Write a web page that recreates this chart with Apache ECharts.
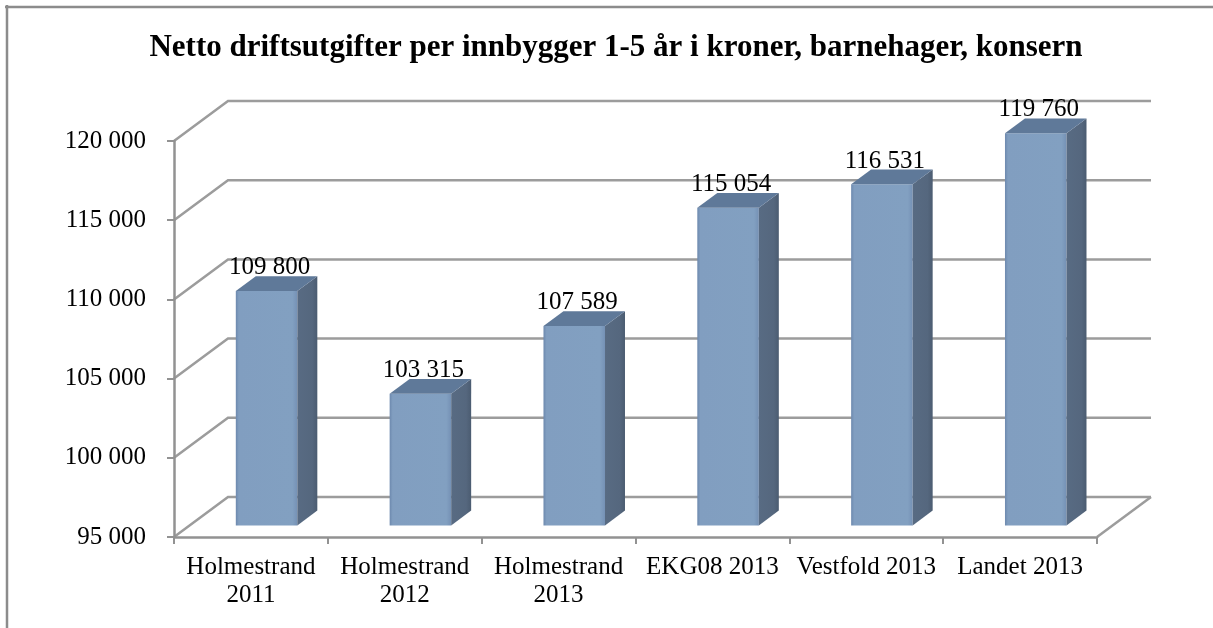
<!DOCTYPE html>
<html>
<head>
<meta charset="utf-8">
<script src="https://cdn.jsdelivr.net/npm/echarts@6.0.0/dist/echarts.min.js"></script>
<style>
html,body{margin:0;padding:0;background:#fff;}
#c{width:1213px;height:628px;}
</style>
</head>
<body>
<div id="c"></div>
<script>
const titleText = 'Netto driftsutgifter per innbygger 1-5 år i kroner, barnehager, konsern';
const categories = ['Holmestrand\n2011', 'Holmestrand\n2012', 'Holmestrand\n2013', 'EKG08 2013', 'Vestfold 2013', 'Landet 2013'];
const values = [109800, 103315, 107589, 115054, 116531, 119760];
const yTicks = [95000, 100000, 105000, 110000, 115000, 120000];
const yMin = 95000, yMax = 120000, yStep = 5000;

// oblique 3D projection (pixels)
const DX = 54, DY = -40;
const F1 = 0.29, F2 = 0.66;   // bar front / back depth fraction
const BAR_W = 0.40;           // bar width as fraction of band
const FONT = '"Liberation Serif", serif';
const GRID_COLOR = '#9c9c9c';

function fmt(v) { return String(v).replace(/\B(?=(\d{3})+(?!\d))/g, ' '); }

const chart = echarts.init(document.getElementById('c'), null, { renderer: 'canvas' });

const option = {
  animation: false,
  backgroundColor: '#fff',
  title: {
    text: titleText,
    left: 611,
    top: 27,
    textAlign: 'center',
    textStyle: { fontFamily: FONT, fontWeight: 'bold', fontSize: 31, color: '#000' }
  },
  graphic: [
    { type: 'line', shape: { x1: 5, y1: 7, x2: 1213, y2: 7 }, style: { stroke: '#8c8c8c', lineWidth: 2.5 }, silent: true },
    { type: 'line', shape: { x1: 7, y1: 5, x2: 7, y2: 628 }, style: { stroke: '#8c8c8c', lineWidth: 2.5 }, silent: true }
  ],
  grid: { left: 174, right: 116, top: 141, bottom: 91 },
  xAxis: {
    type: 'category',
    data: categories,
    boundaryGap: true,
    axisLine: { show: true, lineStyle: { color: '#929292', width: 2.5 } },
    axisTick: { show: true, length: 7, lineStyle: { color: '#929292', width: 2 } },
    axisLabel: { color: '#000', fontFamily: FONT, fontSize: 25, lineHeight: 28, margin: 16, interval: 0 },
    splitLine: { show: false },
    z: 5
  },
  yAxis: {
    type: 'value',
    min: yMin, max: yMax, interval: yStep,
    axisLine: { show: true, lineStyle: { color: '#929292', width: 2.5 } },
    axisTick: { show: true, length: 7, lineStyle: { color: '#929292', width: 2 } },
    axisLabel: { color: '#000', fontFamily: FONT, fontSize: 25, margin: 28, formatter: fmt },
    splitLine: { show: false },
    z: 5
  },
  series: [
    {
      type: 'custom',
      name: 'walls',
      silent: true,
      z: 1,
      data: yTicks.map(function (v) { return [0, v]; }),
      renderItem: function (params, api) {
        const cs = params.coordSys;
        const y = api.coord([0, api.value(1)])[1];
        const x0 = cs.x, x1 = cs.x + cs.width;
        const st = { stroke: GRID_COLOR, lineWidth: 2.5, fill: null };
        const children = [{
          type: 'polyline',
          shape: { points: [[x0, y], [x0 + DX, y + DY], [x1 + DX, y + DY]] },
          style: st
        }];
        if (params.dataIndex === 0) {
          children.push({ type: 'line', shape: { x1: x1, y1: y, x2: x1 + DX, y2: y + DY }, style: st });
        }
        return { type: 'group', children: children };
      }
    },
    {
      type: 'custom',
      name: 'bars',
      z: 3,
      data: values.map(function (v, i) { return [i, v]; }),
      renderItem: function (params, api) {
        const i = api.value(0), v = api.value(1);
        const top = api.coord([i, v]);
        const base = api.coord([i, yMin]);
        const band = api.size([1, 0])[0];
        const w = band * BAR_W;
        const fx = top[0] - w / 2 + F1 * DX;
        const fy = top[1] + F1 * DY;
        const by = base[1] + F1 * DY;
        const ddx = (F2 - F1) * DX, ddy = (F2 - F1) * DY;
        const front = {
          type: 'rect',
          shape: { x: fx, y: fy, width: w, height: by - fy },
          style: {
            fill: new echarts.graphic.LinearGradient(0, 0, 1, 0, [
              { offset: 0, color: '#6d89ae' },
              { offset: 0.05, color: '#819ec0' },
              { offset: 0.92, color: '#82a0c1' },
              { offset: 1, color: '#7591b5' }
            ])
          }
        };
        const side = {
          type: 'polygon',
          shape: { points: [[fx + w, fy], [fx + w + ddx, fy + ddy], [fx + w + ddx, by + ddy], [fx + w, by]] },
          style: {
            fill: new echarts.graphic.LinearGradient(0, 0, 1, 0, [
              { offset: 0, color: '#586b83' },
              { offset: 0.75, color: '#55677e' },
              { offset: 1, color: '#4b5c71' }
            ])
          }
        };
        const topFace = {
          type: 'polygon',
          shape: { points: [[fx, fy], [fx + w, fy], [fx + w + ddx, fy + ddy], [fx + ddx, fy + ddy]] },
          style: { fill: '#5f7999' }
        };
        const label = {
          type: 'text',
          style: {
            text: fmt(v),
            x: fx + w / 2 + 3,
            y: fy + ddy + 4,
            align: 'center',
            verticalAlign: 'bottom',
            fontFamily: FONT,
            fontSize: 25,
            fill: '#000'
          },
          z2: 10
        };
        return { type: 'group', children: [front, side, topFace, label] };
      }
    }
  ]
};

chart.setOption(option);
</script>
</body>
</html>
